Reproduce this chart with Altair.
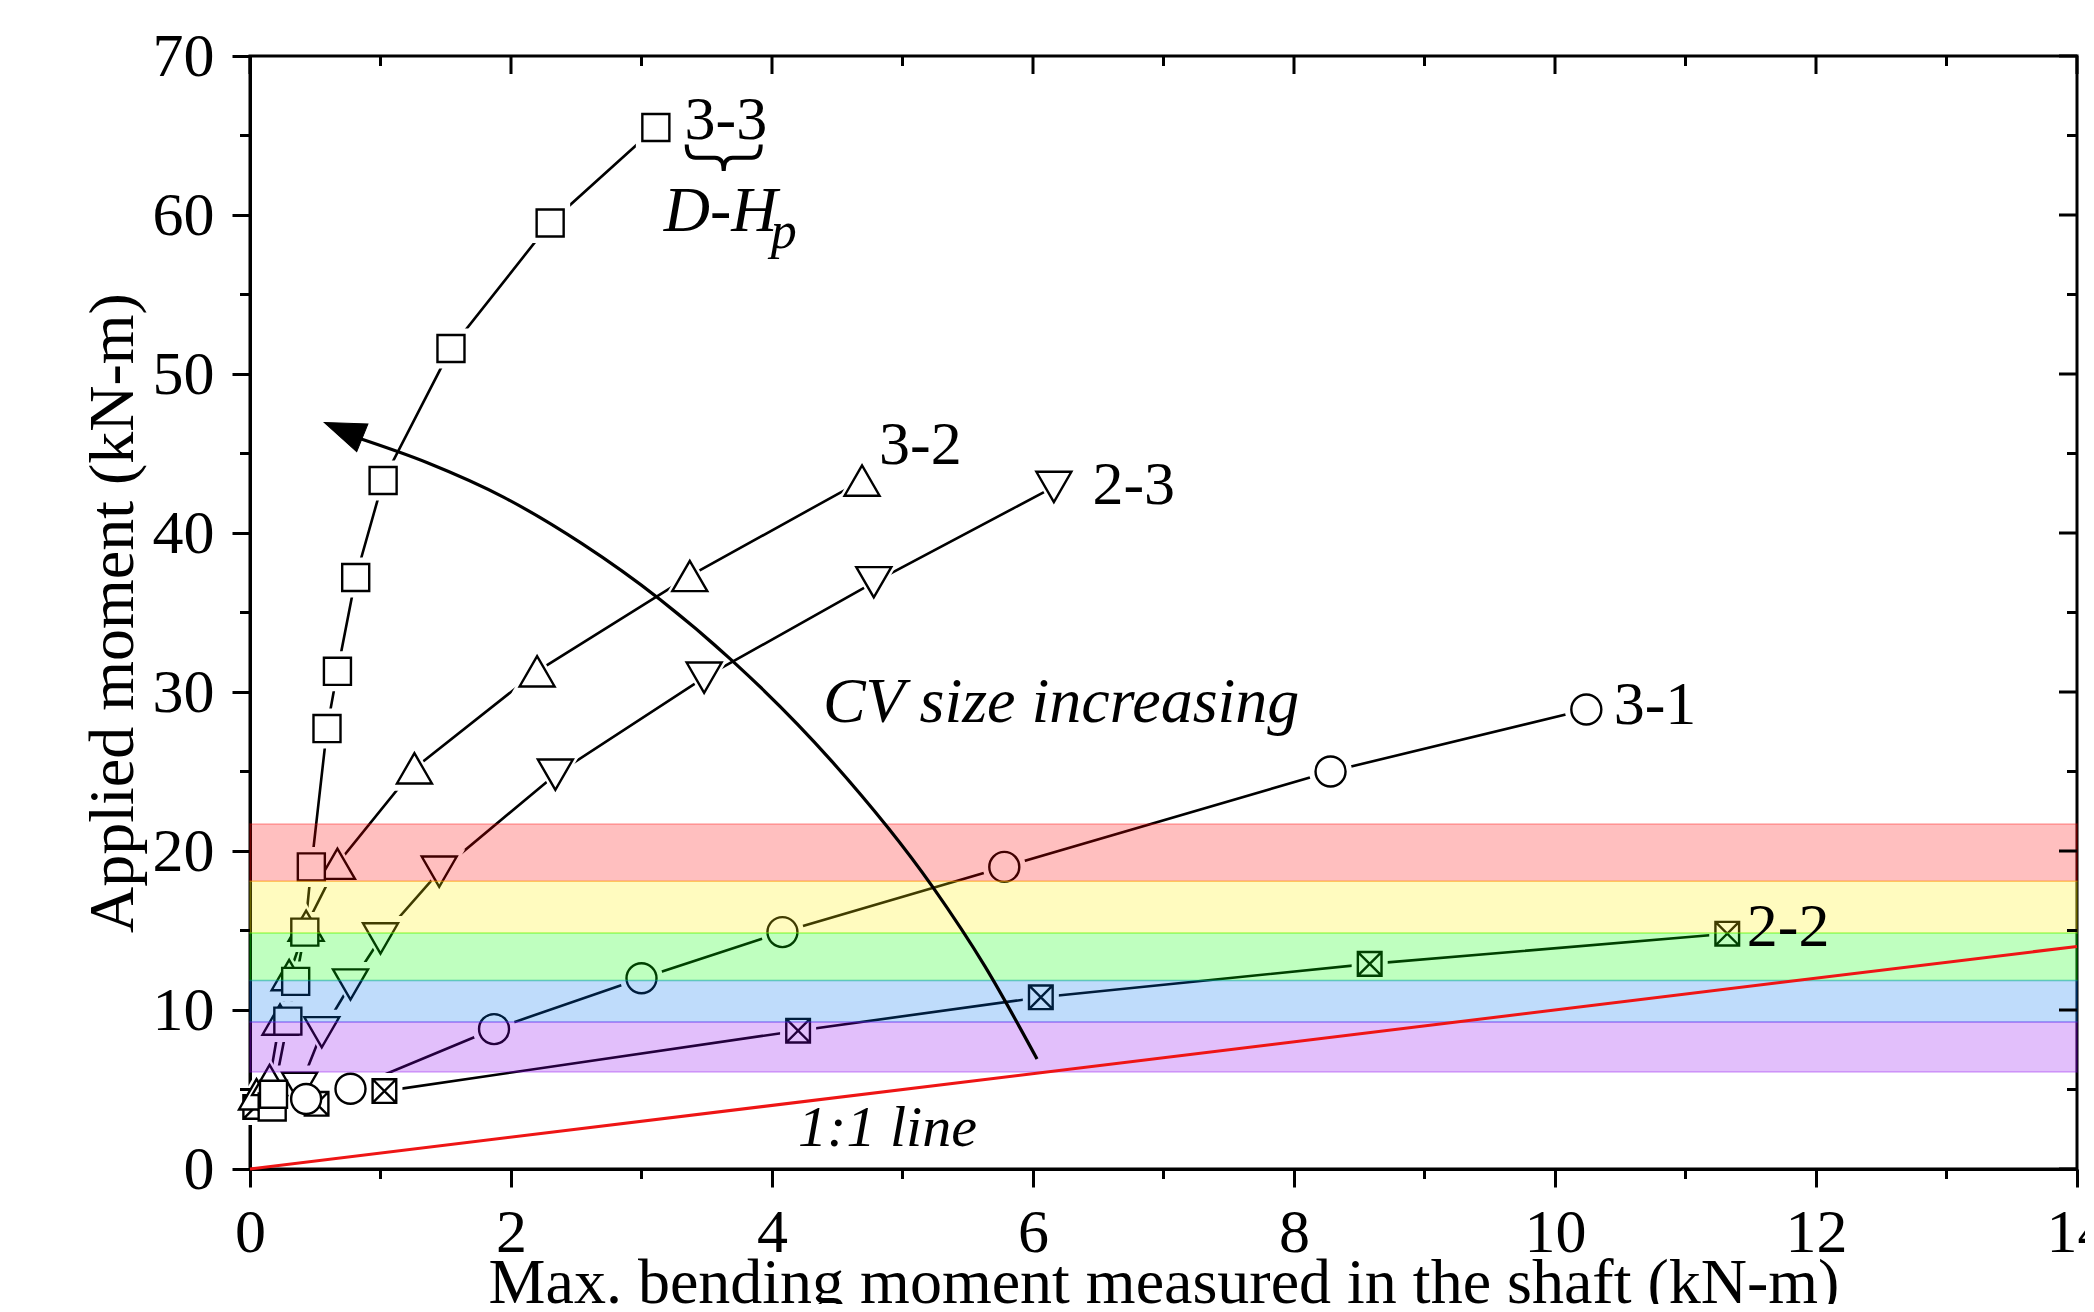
import altair as alt
import pandas as pd

FONT = "Liberation Serif"

# ---------------- data ----------------
s22_x = [0.04, 0.51, 1.03, 4.20, 6.06, 8.58, 11.32]
s22_y = [3.9, 4.1, 4.9, 8.7, 10.8, 12.9, 14.8]
s32_x = [0.05, 0.15, 0.23, 0.30, 0.43, 0.67, 1.26, 2.20, 3.37, 4.69]
s32_y = [4.7, 5.6, 9.4, 12.2, 15.3, 19.2, 25.2, 31.3, 37.3, 43.3]
s23_x = [0.38, 0.55, 0.77, 1.00, 1.45, 2.34, 3.48, 4.78, 6.16]
s23_y = [5.1, 8.6, 11.6, 14.5, 18.7, 24.8, 30.9, 36.9, 42.9]
s33_x = [0.17, 0.18, 0.29, 0.35, 0.42, 0.47, 0.59, 0.67, 0.81, 1.02, 1.54, 2.30, 3.11]
s33_y = [3.9, 4.7, 9.3, 11.8, 14.9, 19.0, 27.7, 31.3, 37.2, 43.3, 51.6, 59.5, 65.5]
s31_x = [0.43, 0.77, 1.87, 3.00, 4.08, 5.78, 8.28, 10.24]
s31_y = [4.4, 5.05, 8.8, 12.0, 14.9, 19.0, 25.0, 28.9]

series_names = ["2-2", "3-2", "2-3", "3-3", "3-1"]
series_x = [s22_x, s32_x, s23_x, s33_x, s31_x]
series_y = [s22_y, s32_y, s23_y, s33_y, s31_y]

# 1:1 reference line
one_x = [0, 14]
one_y = [0, 14]

# colored bands (lower, upper)
band_lo = [18.1, 14.85, 11.85, 9.25, 6.1]
band_hi = [21.7, 18.1, 14.85, 11.85, 9.25]
band_col = ["#FF0000", "#FFEE00", "#00FF00", "#0073F0", "#8C00F0"]

# "CV size increasing" arrow curve
arrow_x = [0.789, 1.364, 1.946, 2.544, 3.142, 3.686, 4.452, 5.231, 5.632, 6.031]
arrow_y = [46.08, 44.40, 42.24, 39.33, 35.82, 32.04, 25.70, 17.74, 12.74, 6.92]
head_x = [0.736]
head_y = [46.4]

# labels
lab_text = ["3-3", "3-2", "2-3", "3-1", "2-2"]
lab_x = [3.33, 4.82, 6.455, 10.45, 11.47]
lab_y = [64.8, 44.35, 41.83, 27.97, 14.03]

ital_text = ["D-H", "CV size increasing"]
ital_x = [3.17, 4.39]
ital_y = [58.97, 28.14]
sub_text = ["p"]
sub_x = [3.99]
sub_y = [57.9]
one_text = ["1:1 line"]
one_tx = [4.20]
one_ty = [1.43]
brace_x = [3.63]
brace_y = [63.6]

x_major = list(range(0, 15, 2))
x_minor = list(range(1, 14, 2))
y_major = list(range(0, 71, 10))
y_minor = list(range(5, 70, 10))

# ---------------- tables ----------------
rows = []
for name, xs_, ys_ in zip(series_names, series_x, series_y):
    for i, (a, b) in enumerate(zip(xs_, ys_)):
        rows.append({"series": name, "x": a, "y": b, "i": i})
pts = pd.DataFrame(rows)

bands = pd.DataFrame({"x": [0] * 5, "x2": [14] * 5, "y": band_lo, "y2": band_hi, "c": band_col})
one_df = pd.DataFrame({"x": one_x, "y": one_y})
arrow_df = pd.DataFrame({"x": arrow_x, "y": arrow_y, "i": list(range(len(arrow_x)))})
head_df = pd.DataFrame({"x": head_x, "y": head_y})

W, H = 1827, 1113
xsc = alt.Scale(domain=[0, 14], nice=False, zero=False)
ysc = alt.Scale(domain=[0, 70], nice=False, zero=False)

xaxis = alt.Axis(values=x_major, tickSize=18, tickWidth=3, tickColor="black",
                 domainWidth=3, domainColor="black", grid=False,
                 labelFont=FONT, labelFontSize=62, labelColor="black", labelPadding=15,
                 labelFlush=False, labelOverlap=False,
                 title="Max. bending moment measured in the shaft (kN-m)",
                 titleFont=FONT, titleFontSize=64, titleFontWeight="normal", titleColor="black",
                 titleY=133, titleBaseline="alphabetic")
yaxis = alt.Axis(values=y_major, tickSize=18, tickWidth=3, tickColor="black",
                 domainWidth=3, domainColor="black", grid=False,
                 labelFont=FONT, labelFontSize=62, labelColor="black", labelPadding=18,
                 labelFlush=False, labelOverlap=False,
                 title="Applied moment (kN-m)",
                 titleFont=FONT, titleFontSize=64, titleFontWeight="normal", titleColor="black",
                 titleX=-118, titleBaseline="alphabetic", titleAngle=-90)

X = alt.X("x:Q", scale=xsc, axis=xaxis)
Y = alt.Y("y:Q", scale=ysc, axis=yaxis)

layers = []

# series lines
layers.append(alt.Chart(pts).mark_line(color="black", strokeWidth=2.6).encode(
    x=X, y=Y, detail="series:N", order="i:Q"))

shapes = {"2-2": "M-1,-1H1V1H-1Z M-1,-1L1,1 M1,-1L-1,1",
          "3-2": "triangle-up", "2-3": "triangle-down", "3-3": "square", "3-1": "circle"}
halo_shapes = {"2-2": "square", "3-2": "triangle-up", "2-3": "triangle-down",
               "3-3": "square", "3-1": "circle"}
sizes = {"2-2": 560, "3-2": 1225, "2-3": 1225, "3-3": 730, "3-1": 900}
halo_sizes = {"2-2": 1300, "3-2": 2700, "2-3": 2700, "3-3": 1600, "3-1": 1850}

for name in series_names:
    d = pts[pts.series == name]
    layers.append(alt.Chart(d).mark_point(shape=halo_shapes[name], size=halo_sizes[name],
                                          filled=True, fill="white", opacity=1,
                                          strokeWidth=0).encode(x=X, y=Y))
for name in series_names:
    d = pts[pts.series == name]
    layers.append(alt.Chart(d).mark_point(shape=shapes[name], size=sizes[name],
                                          fill="white", stroke="black", strokeWidth=2.4,
                                          opacity=1, fillOpacity=1).encode(x=X, y=Y))

# bands overlay
layers.append(alt.Chart(bands).mark_rect(fillOpacity=0.25, strokeOpacity=0.3, strokeWidth=1.5).encode(
    x=X, x2="x2:Q", y=Y, y2="y2:Q",
    fill=alt.Fill("c:N", scale=None), stroke=alt.Stroke("c:N", scale=None)))

# 1:1 line (drawn above the bands)
layers.append(alt.Chart(one_df).mark_line(color="#EE1515", strokeWidth=3).encode(x=X, y=Y))

# minor / inward ticks
def ticks(xv, yv, orient, size, xo=0, yo=0):
    df = pd.DataFrame({"x": xv, "y": yv})
    return alt.Chart(df).mark_tick(orient=orient, size=size, thickness=3, color="black",
                                   opacity=1, xOffset=xo, yOffset=yo).encode(x=X, y=Y)

layers.append(ticks(x_minor, [0] * len(x_minor), "vertical", 10, yo=5))
layers.append(ticks(x_major, [70] * len(x_major), "vertical", 18, yo=9))
layers.append(ticks(x_minor, [70] * len(x_minor), "vertical", 10, yo=5))
layers.append(ticks([0] * len(y_minor), y_minor, "horizontal", 10, xo=-5))
layers.append(ticks([14] * len(y_major), y_major, "horizontal", 18, xo=-9))
layers.append(ticks([14] * len(y_minor), y_minor, "horizontal", 10, xo=-5))

# arrow
layers.append(alt.Chart(arrow_df).mark_line(color="black", strokeWidth=3.2, interpolate="monotone").encode(
    x=X, y=Y, order="i:Q"))
layers.append(alt.Chart(head_df).mark_point(shape="M0,-1L0.64,0.75L-0.64,0.75Z", size=2190,
                                            filled=True, fill="black", stroke="black", strokeWidth=1,
                                            opacity=1, angle=292).encode(x=X, y=Y))

# brace
layers.append(alt.Chart(pd.DataFrame({"x": brace_x, "y": brace_y})).mark_point(
    shape="M-1,-0.36 Q-1,0 -0.76,0 L-0.24,0 Q0,0 0,0.36 Q0,0 0.24,0 L0.76,0 Q1,0 1,-0.36",
    size=5476, filled=False, stroke="black", strokeWidth=4, opacity=1).encode(x=X, y=Y))

# texts
def texts(t, xv, yv, fs, style="normal"):
    df = pd.DataFrame({"t": t, "x": xv, "y": yv})
    return alt.Chart(df).mark_text(font=FONT, fontSize=fs, fontStyle=style, align="left",
                                   baseline="alphabetic", color="black").encode(x=X, y=Y, text="t:N")

layers.append(texts(lab_text, lab_x, lab_y, 62))
layers.append(texts(ital_text, ital_x, ital_y, 64, "italic"))
layers.append(texts(sub_text, sub_x, sub_y, 52, "italic"))
layers.append(texts(one_text, one_tx, one_ty, 58, "italic"))

chart = alt.layer(*layers).properties(
    width=W, height=H,
    padding={"left": 242, "top": 48, "right": 8, "bottom": 135},
    autosize=alt.AutoSizeParams(type="none"),
    background="white",
).configure_view(stroke="black", strokeWidth=3)

chart.save("out.html", embed_options={"renderer": "svg", "actions": False})
